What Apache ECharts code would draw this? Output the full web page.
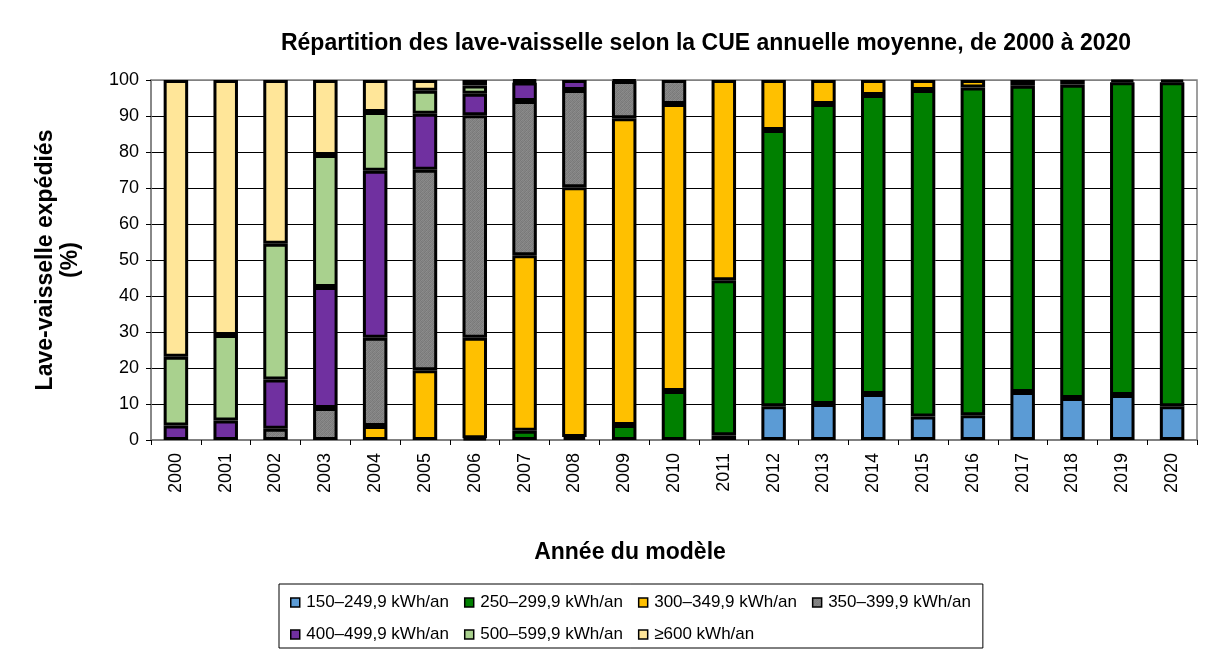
<!DOCTYPE html>
<html>
<head>
<meta charset="utf-8">
<script src="https://cdn.jsdelivr.net/npm/echarts@6/dist/echarts.min.js"></script>
<style>
  html, body { margin: 0; padding: 0; background: #fff; }
  #chart { width: 1206px; height: 655px; }
</style>
</head>
<body>
<div id="chart"></div>
<script>
var years = ['2000','2001','2002','2003','2004','2005','2006','2007','2008','2009','2010',
             '2011','2012','2013','2014','2015','2016','2017','2018','2019','2020'];

var names = ['150–249,9 kWh/an','250–299,9 kWh/an','300–349,9 kWh/an','350–399,9 kWh/an',
             '400–499,9 kWh/an','500–599,9 kWh/an','≥600 kWh/an'];

var cue150 = [0,0,0,0,0,0,0,0,0,0,0, 1.3,9.4,10.0,12.8,6.5,6.9,13.3,11.7,12.5,9.4];
var cue250 = [0,0,0,0,0,0,0.5,2.6,0.8,4.2,13.6, 43.1,76.7,83.3,83.0,90.7,91.0,85.1,87.0,86.9,90.0];
var cue300 = [0,0,0,0,3.9,19.4,27.9,48.7,69.4,85.2,79.7, 55.6,13.9,6.7,4.2,2.8,2.1,1.6,1.3,0.6,0.6];
var cue350 = [0,0,3.1,8.9,24.5,55.7,61.8,42.9,27.0,10.3,6.7, 0,0,0,0,0,0,0,0,0,0];
var cue400 = [4.0,5.4,13.7,33.6,46.4,15.5,6.0,5.1,2.8,0.3,0, 0,0,0,0,0,0,0,0,0,0];
var cue500 = [19.1,23.8,37.7,36.7,16.3,6.4,2.3,0.4,0,0,0, 0,0,0,0,0,0,0,0,0,0];
var cue600 = [76.9,70.8,45.5,20.8,8.9,3.0,1.5,0.3,0,0,0, 0,0,0,0,0,0,0,0,0,0];

var yTicks = [0,10,20,30,40,50,60,70,80,90,100];

// texture grise (motif fin) pour 350-399,9
var pat = document.createElement('canvas');
pat.width = 4; pat.height = 4;
var pc = pat.getContext('2d');
var dots = ['#787878','#8c8c8c','#7e7e7e','#888888',
            '#8a8a8a','#7a7a7a','#868686','#7c7c7c',
            '#808080','#858585','#777777','#8b8b8b',
            '#838383','#7b7b7b','#8e8e8e','#818181'];
for (var i = 0; i < 16; i++) {
  pc.fillStyle = dots[i];
  pc.fillRect(i % 4, Math.floor(i / 4), 1, 1);
}

var colors = ['#5B9BD5', '#008000', '#FFC000', {image: pat, repeat: 'repeat'},
              '#7030A0', '#A9D18E', '#FFE699'];
var values = [cue150, cue250, cue300, cue350, cue400, cue500, cue600];

var font = 'Liberation Sans, Arial, sans-serif';

var series = [];
for (var s = 0; s < names.length; s++) {
  series.push({
    name: names[s],
    type: 'bar',
    stack: 'total',
    barWidth: 24.5,
    // 0 -> vide, pour ne pas tracer de bordure sur un segment nul
    data: values[s].map(function (v) { return v === 0 ? '-' : v; }),
    itemStyle: {
      color: colors[s],
      borderColor: '#000',
      borderWidth: 3
    },
    emphasis: { disabled: true }
  });
}

var gridLineColors = [];
for (var k = 0; k < yTicks.length; k++) {
  gridLineColors.push(k === yTicks.length - 1 ? '#808080' : '#000');
}

var chart = echarts.init(document.getElementById('chart'));
chart.setOption({
  backgroundColor: '#fff',
  animation: false,
  title: {
    text: 'Répartition des lave-vaisselle selon la CUE annuelle moyenne, de 2000 à 2020',
    left: 701,
    top: 27,
    textAlign: 'center',
    textStyle: { fontFamily: font, fontSize: 23, fontWeight: 'bold', color: '#000' }
  },
  legend: {
    data: names,
    left: 279,
    top: 584,
    width: 704,
    padding: [10, 12, 5, 11],
    itemGap: 15,
    icon: 'path://M0,0H10V10H0Z',
    itemWidth: 12,
    itemHeight: 9,
    borderColor: '#000',
    borderWidth: 1,
    itemStyle: { borderColor: '#000', borderWidth: 1.5 },
    textStyle: { fontFamily: font, fontSize: 17, color: '#000' }
  },
  grid: {
    left: 151,
    right: 9,
    top: 80,
    bottom: 215,
    show: true,
    borderColor: '#808080',
    borderWidth: 1.5
  },
  xAxis: {
    type: 'category',
    data: years,
    name: 'Année du modèle',
    nameLocation: 'middle',
    nameGap: 101,
    nameTextStyle: {
      fontFamily: font, fontSize: 23, fontWeight: 'bold', color: '#000',
      verticalAlign: 'top', padding: [0, 88, 0, 0]
    },
    axisLine: { lineStyle: { color: '#808080', width: 2 } },
    axisTick: { show: true, length: 5, lineStyle: { color: '#000' } },
    axisLabel: {
      rotate: 90,
      margin: 13,
      fontFamily: font,
      fontSize: 18,
      color: '#000'
    }
  },
  yAxis: {
    type: 'value',
    min: 0,
    max: 100,
    interval: 10,
    name: 'Lave-vaisselle expédiés\n(%)',
    nameLocation: 'middle',
    nameRotate: 90,
    nameGap: 68,
    nameTextStyle: {
      fontFamily: font, fontSize: 23, fontWeight: 'bold', color: '#000',
      lineHeight: 25
    },
    axisLine: { show: true, lineStyle: { color: '#808080', width: 1.5 } },
    axisTick: { show: true, length: 5, lineStyle: { color: '#000' } },
    axisLabel: { margin: 12, fontFamily: font, fontSize: 18, color: '#000' },
    splitLine: { show: true, lineStyle: { color: gridLineColors, width: 1 } }
  },
  series: series
});
</script>
</body>
</html>
